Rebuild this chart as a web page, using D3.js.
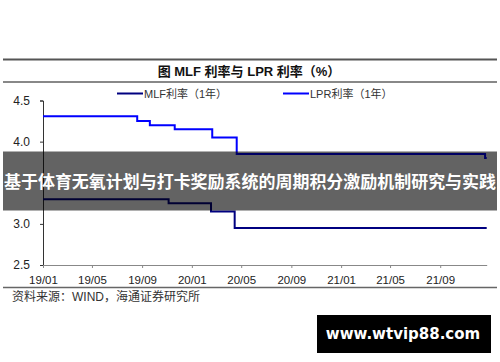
<!DOCTYPE html>
<html>
<head>
<meta charset="utf-8">
<script src="https://cdn.jsdelivr.net/npm/d3@7"></script>
<style>
html,body{margin:0;padding:0;background:#fff;}
svg{display:block;}
</style>
</head>
<body>
<svg id="chart" width="500" height="362"></svg>
<script>
// ---- data ----
const lprDates = ["2019-01-01","2019-08-20","2019-09-20","2019-11-20","2020-02-20","2020-04-20","2021-12-20","2021-12-24"];
const lprValues = [4.31, 4.25, 4.20, 4.15, 4.05, 3.85, 3.80, 3.80];
const mlfDates = ["2019-01-01","2019-11-05","2020-02-17","2020-04-15","2021-12-24"];
const mlfValues = [3.30, 3.25, 3.15, 2.95, 2.95];
const xTickLabels = ["19/01","19/05","19/09","20/01","20/05","20/09","21/01","21/05","21/09"];
const yTicks = [2.5, 3.0, 4.0, 4.5];
const seriesNames = ["MLF利率（1年）", "LPR利率（1年）"];
const titleText = "图  MLF 利率与 LPR 利率（%）";
const sourceText = "资料来源：WIND，海通证券研究所";
const bannerText = "基于体育无氧计划与打卡奖励系统的周期积分激励机制研究与实践";
const watermarkText = "www.wtvip88.com";

const parse = d3.timeParse("%Y-%m-%d");
const parseTick = d3.timeParse("%y/%m");
const svg = d3.select("#chart");
const latin = "'Liberation Sans', Arial, 'Noto Sans CJK SC', sans-serif";
const cjk = "'Liberation Sans', 'Noto Sans CJK SC', sans-serif";

const x = d3.scaleTime()
  .domain([parse("2019-01-01"), parse("2021-12-24")])
  .range([43, 486.7]);
const y = d3.scaleLinear().domain([2.5, 4.5]).range([265, 100.5]);

// header rules
svg.append("line").attr("x1",3).attr("x2",497).attr("y1",59.5).attr("y2",59.5)
  .attr("stroke","#555").attr("stroke-width",2);
svg.append("line").attr("x1",3).attr("x2",497).attr("y1",82).attr("y2",82)
  .attr("stroke","#888").attr("stroke-width",2);
svg.append("text").attr("x",249).attr("y",76).attr("text-anchor","middle")
  .attr("font-family",cjk).attr("font-weight","bold").attr("font-size",13)
  .attr("fill","#111").text(titleText);

// axes
const yAxis = d3.axisLeft(y).tickValues(yTicks).tickFormat(d3.format(".1f")).tickSize(3).tickPadding(10);
const gy = svg.append("g").attr("transform","translate(43,0)").call(yAxis);
gy.select(".domain").attr("stroke","#333");
gy.selectAll(".tick line").attr("stroke","#333");
gy.selectAll("text").attr("font-family",latin).attr("font-size",12).attr("fill","#222");

const xAxis = d3.axisBottom(x).tickValues(xTickLabels.map(parseTick))
  .tickFormat(d3.timeFormat("%y/%m")).tickSizeInner(3).tickSizeOuter(0).tickPadding(8);
const gx = svg.append("g").attr("transform","translate(0,265)").call(xAxis);
gx.select(".domain").attr("stroke","#888");
gx.selectAll(".tick line").attr("stroke","#888");
gx.selectAll("text").attr("font-family",latin).attr("font-size",11.5).attr("fill","#222");

// bottom rule
svg.append("line").attr("x1",3).attr("x2",497).attr("y1",287.5).attr("y2",287.5)
  .attr("stroke","#666").attr("stroke-width",1.5);

// lines
const line = d3.line().x(d => x(d.date)).y(d => y(d.value)).curve(d3.curveStepAfter);
const lpr = lprDates.map((d,i) => ({date: parse(d), value: lprValues[i]}));
const mlf = mlfDates.map((d,i) => ({date: parse(d), value: mlfValues[i]}));
const colors = ["#000080", "#0000ff"];
svg.append("path").datum(mlf).attr("d",line).attr("fill","none")
  .attr("stroke",colors[0]).attr("stroke-width",2);
svg.append("path").datum(lpr).attr("d",line).attr("fill","none")
  .attr("stroke",colors[1]).attr("stroke-width",2);

// legend
const legendX = [117, 283];
seriesNames.forEach((name,i) => {
  svg.append("line").attr("x1",legendX[i]).attr("x2",legendX[i]+26)
    .attr("y1",93.5).attr("y2",93.5).attr("stroke",colors[i]).attr("stroke-width",2);
  svg.append("text").attr("x",legendX[i]+27).attr("y",97.5)
    .attr("font-family",cjk).attr("font-size",11).attr("fill","#333").text(name);
});

// source
svg.append("text").attr("x",12).attr("y",301)
  .attr("font-family",cjk).attr("font-size",12).attr("fill","#333").text(sourceText);

// banner overlay
svg.append("rect").attr("x",3).attr("y",151.5).attr("width",494).attr("height",59)
  .attr("fill","rgba(0,0,0,0.61)");
svg.append("text").attr("x",250).attr("y",181).attr("text-anchor","middle")
  .attr("dominant-baseline","central")
  .attr("font-family","'Noto Sans CJK SC', sans-serif").attr("font-weight","bold")
  .attr("font-size",16.5).attr("textLength",492).attr("lengthAdjust","spacingAndGlyphs")
  .attr("fill","#fff").text(bannerText);

// watermark
svg.append("rect").attr("x",317).attr("y",315).attr("width",174).attr("height",38)
  .attr("fill","#000");
svg.append("text").attr("x",403).attr("y",334).attr("text-anchor","middle")
  .attr("dominant-baseline","central")
  .attr("font-family","'DejaVu Sans', sans-serif").attr("font-weight","bold")
  .attr("font-size",15).attr("fill","#fff").text(watermarkText);
</script>
</body>
</html>
